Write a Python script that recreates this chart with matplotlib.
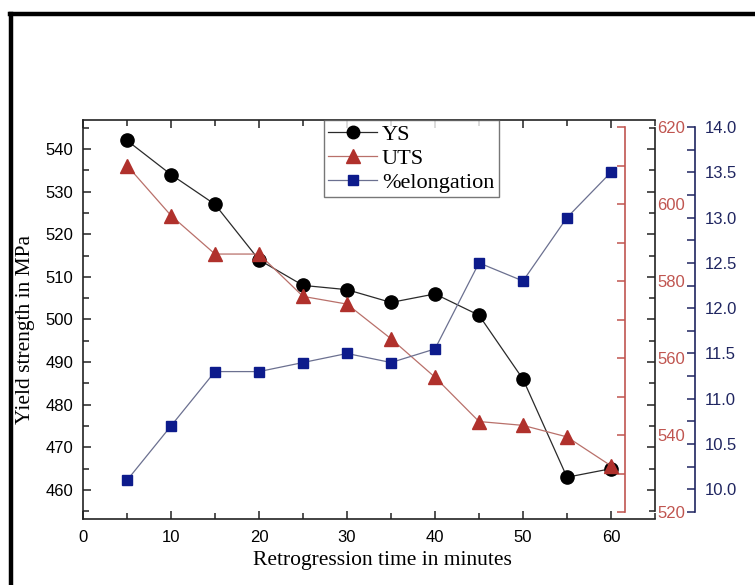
import matplotlib
matplotlib.use("Agg")
import matplotlib.pyplot as plt
from matplotlib.ticker import MultipleLocator, FormatStrFormatter
from matplotlib.lines import Line2D

# Retrogression time (minutes) and measured properties
time_min = [5, 10, 15, 20, 25, 30, 35, 40, 45, 50, 55, 60]
ys_mpa = [542, 534, 527, 514, 508, 507, 504, 506, 501, 486, 463, 465]
uts_mpa = [610, 597, 587, 587, 576, 574, 565, 555, 543.5, 542.5, 539.5, 532]
elongation_pct = [10.1, 10.7, 11.3, 11.3, 11.4, 11.5, 11.4, 11.55, 12.5, 12.3, 13.0, 13.5]

series_labels = ["YS", "UTS", "%elongation"]
x_label = "Retrogression time in minutes"
y_label = "Yield strength in MPa"

RED = "#b0312c"
RED_AX = "#c05550"
RED_LINE = "#b9706a"
BLUE = "#0d1b8c"
BLUE_AX = "#1f2560"
BLUE_LINE = "#6b7090"

SANS = ["Liberation Sans", "DejaVu Sans"]
SERIF = ["Liberation Serif", "DejaVu Serif"]

W, H = 755, 585
fig = plt.figure(figsize=(W / 100, H / 100), dpi=100)
fig.patch.set_facecolor("white")


def fx(px):
    return px / W


def fy(py):
    return 1 - py / H


# Outer frame (left and top edges)
fig.add_artist(Line2D([fx(11), fx(11)], [fy(14), fy(H + 5)], color="black", lw=3.2,
                      transform=fig.transFigure))
fig.add_artist(Line2D([fx(9.5), fx(W + 5)], [fy(14), fy(14)], color="black", lw=3.2,
                      transform=fig.transFigure))

ax_l, ax_r = 83, 655
main_rect = [fx(ax_l), fy(519), (ax_r - ax_l) / W, (519 - 120) / H]
side_rect = [fx(ax_l), fy(512), (ax_r - ax_l) / W, (512 - 127) / H]

# ---- Yield strength (main axes) ----
ax = fig.add_axes(main_rect)
ax.plot(time_min, ys_mpa, color="#2a2a2a", lw=0.9, marker="o", ms=9.5,
        mfc="black", mec="black", zorder=3)
ax.set_xlim(0, 65)
ax.set_ylim(453.2, 546.8)
ax.xaxis.set_major_locator(MultipleLocator(10))
ax.xaxis.set_minor_locator(MultipleLocator(5))
ax.yaxis.set_major_locator(MultipleLocator(10))
ax.yaxis.set_minor_locator(MultipleLocator(5))
ax.tick_params(which="both", direction="in", top=True, right=True, width=1.1,
               color="#222222", labelsize=12, labelcolor="black")
ax.tick_params(which="major", length=6)
ax.tick_params(which="minor", length=4)
ax.tick_params(axis="x", pad=8)
ax.tick_params(axis="y", pad=7)
for s in ax.spines.values():
    s.set_linewidth(1.2)
    s.set_color("#222222")
ax.spines["right"].set_bounds(455, 545)
for lab in ax.get_xticklabels() + ax.get_yticklabels():
    lab.set_family(SANS)

# ---- UTS axis ----
ax2 = fig.add_axes(side_rect)
ax2.patch.set_visible(False)
ax2.plot(time_min, uts_mpa, color=RED_LINE, lw=0.9, marker="^", ms=10,
         mfc=RED, mec=RED, zorder=3)
ax2.set_xlim(0, 65)
ax2.set_ylim(520, 620)
for k in ("left", "top", "bottom"):
    ax2.spines[k].set_visible(False)
ax2.spines["right"].set_position(("axes", (625 - ax_l) / (ax_r - ax_l)))
ax2.spines["right"].set_color(RED_AX)
ax2.spines["right"].set_linewidth(1.2)
ax2.xaxis.set_visible(False)
ax2.yaxis.tick_right()
ax2.yaxis.set_major_locator(MultipleLocator(20))
ax2.yaxis.set_minor_locator(MultipleLocator(10))
ax2.tick_params(axis="y", which="both", direction="in", length=6, width=1.1,
                color=RED_AX, labelcolor=RED_AX, labelsize=12, pad=23)
for lab in ax2.get_yticklabels():
    lab.set_family(SANS)

# ---- Elongation axis ----
ax3 = fig.add_axes(side_rect)
ax3.patch.set_visible(False)
ax3.plot(time_min, elongation_pct, color=BLUE_LINE, lw=0.9, marker="s", ms=7.5,
         mfc=BLUE, mec=BLUE, zorder=3)
ax3.set_xlim(0, 65)
ax3.set_ylim(9.75, 14.0)
for k in ("left", "top", "bottom"):
    ax3.spines[k].set_visible(False)
ax3.spines["right"].set_position(("axes", (695 - ax_l) / (ax_r - ax_l)))
ax3.spines["right"].set_color(BLUE_AX)
ax3.spines["right"].set_linewidth(1.2)
ax3.xaxis.set_visible(False)
ax3.yaxis.tick_right()
ax3.yaxis.set_major_locator(MultipleLocator(0.5))
ax3.yaxis.set_minor_locator(MultipleLocator(0.25))
ax3.yaxis.set_major_formatter(FormatStrFormatter("%.1f"))
ax3.tick_params(axis="y", which="both", direction="in", length=5.5, width=1.1,
                color=BLUE_AX, labelcolor=BLUE_AX, labelsize=12, pad=7)
for lab in ax3.get_yticklabels():
    lab.set_family(SANS)

# ---- Legend ----
handles = [
    Line2D([], [], color="#2a2a2a", lw=0.9, marker="o", ms=9, mfc="black", mec="black"),
    Line2D([], [], color=RED_LINE, lw=0.9, marker="^", ms=9.5, mfc=RED, mec=RED),
    Line2D([], [], color=BLUE_LINE, lw=0.9, marker="s", ms=7, mfc=BLUE, mec=BLUE),
]
leg = ax3.legend(handles, series_labels, loc="upper left",
                 bbox_to_anchor=(fx(324), fy(120)), bbox_transform=fig.transFigure,
                 borderaxespad=0, frameon=True, fancybox=False, handlelength=2.2,
                 handletextpad=0.2, labelspacing=0.15, borderpad=0.2,
                 prop={"family": SERIF, "size": 16})
leg.get_frame().set_edgecolor("#555555")
leg.get_frame().set_linewidth(1.0)
leg.set_zorder(10)

# ---- Axis titles ----
fig.text(fx(382), fy(560), x_label, ha="center", va="center",
         family=SERIF, fontsize=15.5)
fig.text(fx(26), fy(330), y_label, ha="center", va="center", rotation=90,
         family=SERIF, fontsize=15.5)

fig.savefig("out.png", dpi=100)
